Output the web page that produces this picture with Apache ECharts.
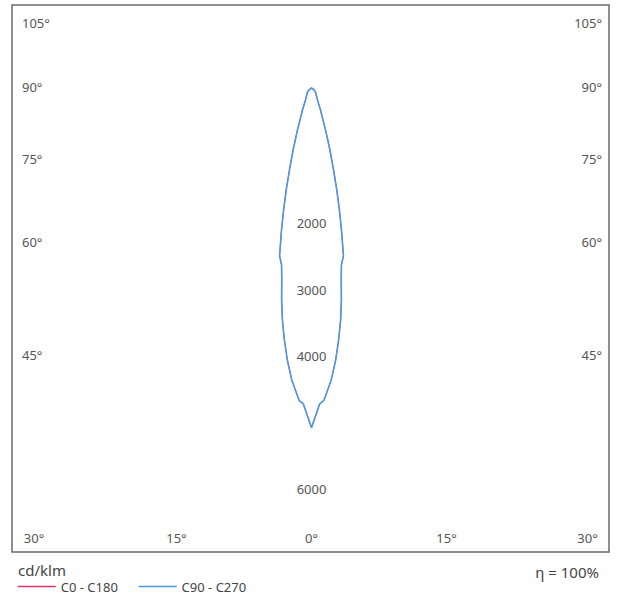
<!DOCTYPE html>
<html>
<head>
<meta charset="utf-8">
<script src="https://cdn.jsdelivr.net/npm/echarts@6.0.0/dist/echarts.min.js"></script>
<style>
  html, body { margin: 0; padding: 0; background: #fff; }
  #ldc { width: 619px; height: 596px; }
</style>
</head>
<body>
<div id="ldc"></div>
<script>
var chartDom = document.getElementById('ldc');
var myChart = echarts.init(chartDom, null, { renderer: 'svg' });
var option;

// gamma angles (deg from nadir) and intensity (cd/klm)
const gammaAngles = [0, 1.5, 2.3, 3.9, 5.1, 6.2, 7.2, 8.1, 8.9, 9.7, 10.9, 12.1, 13.1, 14.2, 15.4, 17.1, 19.3, 24.2, 31, 63, 90, 180];
const intensC0C180 = [5080, 4720, 4670, 4370, 4080, 3780, 3490, 3190, 2890, 2670, 2540, 2150, 1850, 1550, 1250, 940, 640, 330, 175, 67, 40, 30];
const intensC90C270 = [5080, 4720, 4670, 4370, 4080, 3780, 3490, 3190, 2890, 2670, 2540, 2150, 1850, 1550, 1250, 940, 640, 330, 175, 67, 40, 30];

// tick labels
const sideAngles = [105, 90, 75, 60, 45];
const bottomAngles = [-30, -15, 0, 15, 30];
const intensityTicks = [2000, 3000, 4000, 6000];

// layout
const W = 619, H = 596;
const frame = { left: 12, top: 5, right: 609, bottom: 552 };
const cx = 311.5, cy = 90;
const pxPerCd = 66.5 / 1000;
const labelColor = '#555';
const fontFamily = '"Noto Sans", "DejaVu Sans", sans-serif';

// build closed polar loop: right half uses gamma, left half 360 - gamma
function loop(intens) {
  const pts = [];
  for (let i = 0; i < gammaAngles.length; i++) pts.push([intens[i], gammaAngles[i]]);
  for (let i = gammaAngles.length - 1; i >= 0; i--) pts.push([intens[i], 360 - gammaAngles[i]]);
  return pts;
}

// where each angle ray meets the label column / row (pixels from centre), clamped to the frame
const toCd = (px) => Math.round(px / pxPerCd);
const sideLabelMap = {};
const sideValues = sideAngles.map(a => {
  let py = 268 / Math.tan(a * Math.PI / 180) - 3;
  py = Math.max(py, 23 - cy);
  const v = toCd(py);
  sideLabelMap[v] = a + '°';
  return v;
});
const bottomLabelMap = {};
const bottomValues = bottomAngles.map(a => {
  let px = 504 * Math.tan(a * Math.PI / 180);
  px = Math.max(-277.5, Math.min(276, px));
  const v = toCd(px);
  bottomLabelMap[v] = Math.abs(a) + '°';
  return v;
});

const angleLabelStyle = {
  color: labelColor,
  fontFamily: fontFamily,
  fontSize: 13
};

option = {
  animation: false,
  backgroundColor: '#fff',
  title: [
    {
      text: 'cd/klm',
      left: 18, top: 561, padding: 0,
      textStyle: { color: '#444', fontFamily: fontFamily, fontSize: 15, fontWeight: 'normal', lineHeight: 18 }
    },
    {
      text: 'η = 100%',
      right: 20, top: 563, padding: 0,
      textStyle: { color: '#444', fontFamily: fontFamily, fontSize: 15, fontWeight: 'normal', lineHeight: 18 }
    }
  ],
  legend: {
    left: 17, top: 580, padding: 0,
    itemWidth: 38, itemHeight: 14,
    itemGap: 20,
    selectedMode: false,
    itemStyle: { opacity: 0 },
    lineStyle: { width: 1.5 },
    textStyle: { color: '#444', fontFamily: fontFamily, fontSize: 13 },
    data: ['C0 - C180', 'C90 - C270']
  },
  grid: {
    left: frame.left, top: frame.top,
    right: W - frame.right, bottom: H - frame.bottom,
    show: true,
    borderColor: '#6a6a6a', borderWidth: 1.5,
    backgroundColor: 'transparent'
  },
  xAxis: {
    type: 'value',
    min: (frame.left - cx) / pxPerCd,
    max: (frame.right - cx) / pxPerCd,
    axisLine: { show: false }, axisTick: { show: false }, splitLine: { show: false },
    axisLabel: Object.assign({
      inside: true, margin: 14, verticalAlign: 'middle', align: 'center',
      customValues: bottomValues,
      showMinLabel: true, showMaxLabel: true,
      formatter: v => bottomLabelMap[Math.round(v)] || ''
    }, angleLabelStyle)
  },
  yAxis: [
    {
      type: 'value', inverse: true, position: 'left',
      min: (frame.top - cy) / pxPerCd,
      max: (frame.bottom - cy) / pxPerCd,
      axisLine: { show: false }, axisTick: { show: false }, splitLine: { show: false },
      axisLabel: Object.assign({
        inside: true, margin: 10, align: 'left', verticalAlign: 'middle',
        customValues: sideValues,
        formatter: v => sideLabelMap[Math.round(v)] || ''
      }, angleLabelStyle)
    },
    {
      type: 'value', inverse: true, position: 'right',
      min: (frame.top - cy) / pxPerCd,
      max: (frame.bottom - cy) / pxPerCd,
      axisLine: { show: false }, axisTick: { show: false }, splitLine: { show: false },
      axisLabel: Object.assign({
        inside: true, margin: 7, align: 'right', verticalAlign: 'middle',
        customValues: sideValues,
        formatter: v => sideLabelMap[Math.round(v)] || ''
      }, angleLabelStyle)
    }
  ],
  polar: {
    center: [cx, cy],
    radius: 6000 * pxPerCd
  },
  angleAxis: {
    type: 'value',
    min: 0, max: 360,
    startAngle: 270,
    clockwise: false,
    axisLine: { show: false }, axisTick: { show: false },
    axisLabel: { show: false }, splitLine: { show: false }
  },
  radiusAxis: {
    type: 'value',
    min: 0, max: 6000, interval: 1000,
    axisLine: { show: false }, axisTick: { show: false }, splitLine: { show: false },
    axisLabel: {
      margin: 0, align: 'center', verticalAlign: 'middle',
      color: labelColor, fontFamily: fontFamily, fontSize: 13,
      formatter: v => intensityTicks.indexOf(v) >= 0 ? String(v) : ''
    }
  },
  series: [
    {
      name: 'C0 - C180',
      type: 'line',
      coordinateSystem: 'polar',
      data: loop(intensC0C180),
      symbol: 'none',
      clip: false,
      lineStyle: { color: '#e6306a', width: 1 },
      itemStyle: { color: '#e6306a' }
    },
    {
      name: 'C90 - C270',
      type: 'line',
      coordinateSystem: 'polar',
      data: loop(intensC90C270),
      symbol: 'none',
      clip: false,
      lineStyle: { color: '#4c97e4', width: 1.6 },
      itemStyle: { color: '#4c97e4' }
    }
  ]
};

option && myChart.setOption(option);
</script>
</body>
</html>
